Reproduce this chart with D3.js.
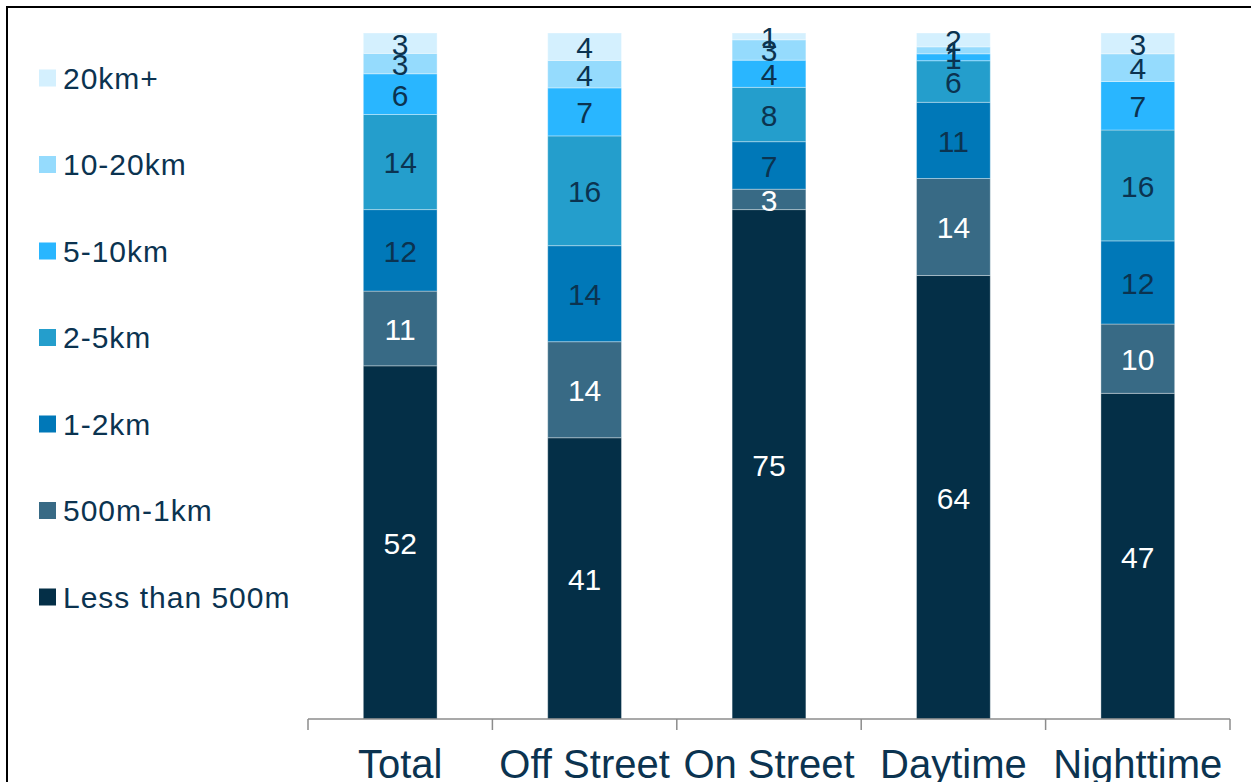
<!DOCTYPE html>
<meta charset="utf-8">
<style>
    body { margin: 0; background: #fff; }
    svg { display: block; }
    .seg { stroke: rgba(255,255,255,0.35); stroke-width: 1px; }
    .lbl { font: 30px "Liberation Sans", Arial, sans-serif; text-anchor: middle; }
    .legend text { font: 30px "Liberation Sans", Arial, sans-serif; fill: #0b3350; letter-spacing: 1px; }
    .cat { font: 40px "Liberation Sans Narrow", "Arial Narrow", "Liberation Sans", sans-serif; fill: #0b3350; text-anchor: middle; }
    .axis line { stroke: #8c8c8c; stroke-width: 1.5px; }
</style>
<svg></svg>
<script src="https://cdn.jsdelivr.net/npm/d3@7"></script>
<script>

    var width = 1251,
        height = 782;

    // categories and series (bottom to top of each bar)
    var categories = ["Total", "Off Street", "On Street", "Daytime", "Nighttime"];
    var series = ["Less than 500m", "500m-1km", "1-2km", "2-5km", "5-10km", "10-20km", "20km+"];
    var colors = ["#042f47", "#386a85", "#0078b8", "#249ecc", "#29b6ff", "#95dbfd", "#d4f0fe"];

    var lessThan500m = [52, 41, 75, 64, 47];
    var m500to1km    = [11, 14, 3, 14, 10];
    var km1to2       = [12, 14, 7, 11, 12];
    var km2to5       = [14, 16, 8, 6, 16];
    var km5to10      = [6, 7, 4, 1, 7];
    var km10to20     = [3, 4, 3, 1, 4];
    var km20plus     = [3, 4, 1, 2, 3];

    var values = [lessThan500m, m500to1km, km1to2, km2to5, km5to10, km10to20, km20plus];

    var rows = categories.map(function(c, i) {
        var r = {cat: c};
        series.forEach(function(s, j) { r[s] = values[j][i]; });
        return r;
    });

    var stack = d3.stack()
        .keys(series)
        .offset(d3.stackOffsetExpand);
    var stacked = stack(rows);

    var x = d3.scaleBand()
        .domain(categories)
        .range([308, 1230])
        .padding(0);

    var y = d3.scaleLinear()
        .domain([0, 1])
        .range([719, 33]);

    var color = d3.scaleOrdinal().domain(series).range(colors);

    var barW = x.bandwidth() * 0.4;

    var svg = d3.select("svg")
        .attr("width", width)
        .attr("height", height);

    // frame
    svg.append("rect")
        .attr("x", 7).attr("y", 7)
        .attr("width", 1400).attr("height", 1000)
        .attr("fill", "none")
        .attr("stroke", "#000")
        .attr("stroke-width", 2);

    var layer = svg.selectAll(".layer")
        .data(stacked)
        .enter().append("g")
        .attr("class", "layer")
        .attr("fill", function(d) { return color(d.key); });

    layer.selectAll("rect")
        .data(function(d) { return d; })
        .enter().append("rect")
        .attr("class", "seg")
        .attr("x", function(d) { return x(d.data.cat) + (x.bandwidth() - barW) / 2; })
        .attr("width", barW)
        .attr("y", function(d) { return y(d[1]); })
        .attr("height", function(d) { return y(d[0]) - y(d[1]); });

    // value labels
    var labels = svg.append("g");
    stacked.forEach(function(s, j) {
        labels.selectAll(null)
            .data(s)
            .enter().append("text")
            .attr("class", "lbl")
            .attr("x", function(d) { return x(d.data.cat) + x.bandwidth() / 2; })
            .attr("y", function(d) { return (y(d[0]) + y(d[1])) / 2; })
            .attr("dy", "0.38em")
            .attr("fill", j < 2 ? "#ffffff" : "#0b3350")
            .text(function(d) { return d.data[s.key]; });
    });

    // x axis
    var axis = svg.append("g").attr("class", "axis");
    axis.append("line")
        .attr("x1", x.range()[0]).attr("x2", x.range()[1])
        .attr("y1", y(0)).attr("y2", y(0));
    axis.selectAll(".tick")
        .data(categories.map(function(c) { return x(c); }).concat([x.range()[1]]))
        .enter().append("line")
        .attr("x1", function(d) { return d; }).attr("x2", function(d) { return d; })
        .attr("y1", y(0)).attr("y2", y(0) + 11);

    svg.selectAll(".cat")
        .data(categories)
        .enter().append("text")
        .attr("class", "cat")
        .attr("x", function(d) { return x(d) + x.bandwidth() / 2; })
        .attr("y", 778)
        .text(function(d) { return d; });

    // legend
    var legend = svg.append("g").attr("class", "legend")
        .selectAll("g")
        .data(series.slice().reverse())
        .enter().append("g")
        .attr("transform", function(d, i) { return "translate(39," + (78 + i * 86.5) + ")"; });

    legend.append("rect")
        .attr("y", -8.5)
        .attr("width", 17).attr("height", 17)
        .attr("fill", function(d) { return color(d); });

    legend.append("text")
        .attr("x", 24)
        .attr("dy", "0.36em")
        .text(function(d) { return d; });

</script>
